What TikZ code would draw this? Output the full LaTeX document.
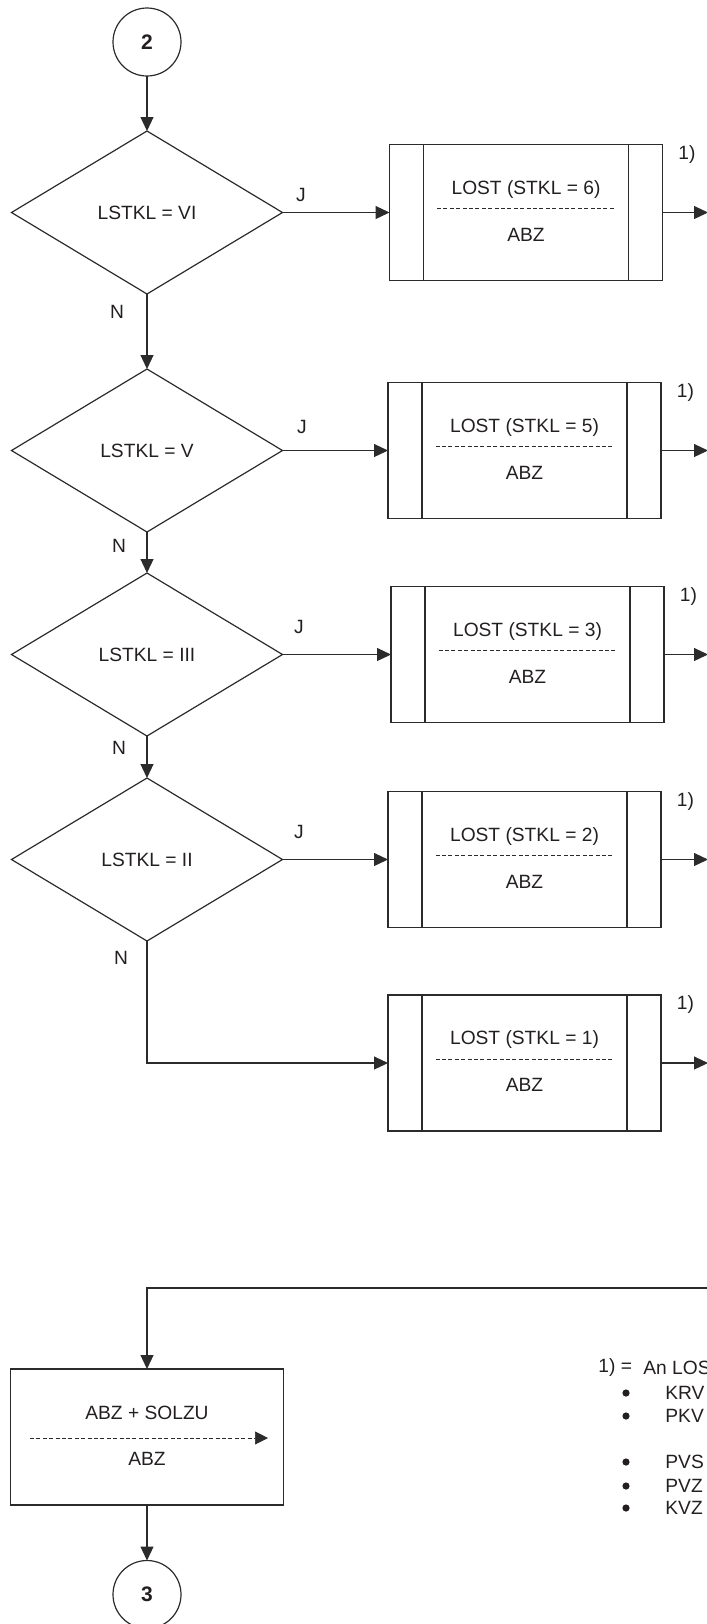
\documentclass[tikz,border=0pt]{standalone}
\usepackage{fontspec}
\setmainfont{Liberation Sans}
\usetikzlibrary{shapes.geometric,arrows.meta}
\definecolor{ln}{HTML}{2B2B2B}
\definecolor{tx}{HTML}{231F20}
\begin{document}
\begin{tikzpicture}[x=0.5pt,y=-0.5pt,
  every node/.style={text=tx, font=\fontsize{9.6}{11}\selectfont},
  conn/.style={draw=ln, line width=0.6pt},
  arr/.style={conn, -{Triangle[length=7pt,width=6.5pt]}},
  dec/.style={diamond, draw=ln, line width=0.6pt, minimum width=135.5pt, minimum height=81.5pt, inner sep=0pt, outer sep=0pt},
  proc/.style={rectangle, draw=ln, line width=0.6pt, minimum width=136.5pt, minimum height=68pt, inner sep=0pt, outer sep=0pt},
  connector/.style={circle, draw=ln, line width=0.6pt, minimum size=34pt, inner sep=0pt, outer sep=0pt, font=\fontsize{10.5}{12}\selectfont\bfseries},
  dsh/.style={draw=ln, line width=0.35pt, dash pattern=on 2pt off 1.2pt},
  lbl/.style={inner sep=0pt}
]
\useasboundingbox (0,0) rectangle (707,1624);
\clip (0,0) rectangle (707,1624);

% start connector
\node[connector] (c2) at (147,42) {2};

% decisions
\node[dec] (d1) at (147,212.5) {LSTKL = VI};
\node[dec] (d2) at (147,450.5) {LSTKL = V};
\node[dec] (d3) at (147,654.5) {LSTKL = III};
\node[dec] (d4) at (147,859.5) {LSTKL = II};

% predefined process boxes
\foreach \n/\cx/\cy/\k in {b1/526/212.5/6, b2/524.5/450.5/5, b3/527.5/654.5/3, b4/524.5/859.5/2, b5/524.5/1063/1} {
  \node[proc] (\n) at (\cx,\cy) {};
  \draw[conn] ([xshift=17pt]\n.north west) -- ([xshift=17pt]\n.south west);
  \draw[conn] ([xshift=-17pt]\n.north east) -- ([xshift=-17pt]\n.south east);
  \node[lbl] (\n txt) at (\cx,\cy-23) {LOST (STKL = \k)};
  \draw[dsh] (\cx-89,\cy-4) -- (\cx+89,\cy-4);
  \node[lbl] (\n abz) at (\cx,\cy+22) {ABZ};
  \node[lbl] (\n ref) at (\cx+161,\cy-58) {1)};
  \coordinate (\n out) at (708,\cy);
  \draw[arr] (\n) -- (\n out);
}

% labels J / N
\node[lbl] (j1) at (301,195) {J};
\node[lbl] (j2) at (302,427) {J};
\node[lbl] (j3) at (299,627) {J};
\node[lbl] (j4) at (299,832) {J};
\node[lbl] (n1) at (117,312) {N};
\node[lbl] (n2) at (119,546) {N};
\node[lbl] (n3) at (119,748) {N};
\node[lbl] (n4) at (121,958) {N};

% connectors
\draw[arr] (c2) -- (d1);
\draw[arr] (d1) -- (b1);
\draw[arr] (d1) -- (d2);
\draw[arr] (d2) -- (b2);
\draw[arr] (d2) -- (d3);
\draw[arr] (d3) -- (b3);
\draw[arr] (d3) -- (d4);
\draw[arr] (d4) -- (b4);
\draw[arr] (d4) |- (b5);

% final process
\node[proc] (fin) at (147,1437) {};
\node[lbl] (fintxt) at (147,1413) {ABZ + SOLZU};
\node[lbl] (finabz) at (147,1459) {ABZ};
\coordinate (fa) at (30,1438);
\coordinate (fb) at (268,1438);
\draw[dsh, -{Triangle[length=6.5pt,width=6.5pt]}] (fa) -- (fb);
\coordinate (top) at (708,1288);
\draw[arr] (top) -| (fin);

% end connector
\node[connector] (c3) at (147,1594.5) {3};
\draw[arr] (fin) -- (c3);

% footnote
\node[lbl, anchor=west] (fn1) at (598,1368) {1) =};
\node[lbl, anchor=west] (fn2) at (643,1368) {An LOS};
\foreach \yy/\t in {1393/KRV, 1416/PKV, 1462/PVS, 1486/PVZ, 1508/KVZ} {
  \fill[tx] (626,\yy) circle (1.8pt);
  \node[lbl, anchor=west] at (665,\yy) {\t};
}
\end{tikzpicture}
\end{document}
